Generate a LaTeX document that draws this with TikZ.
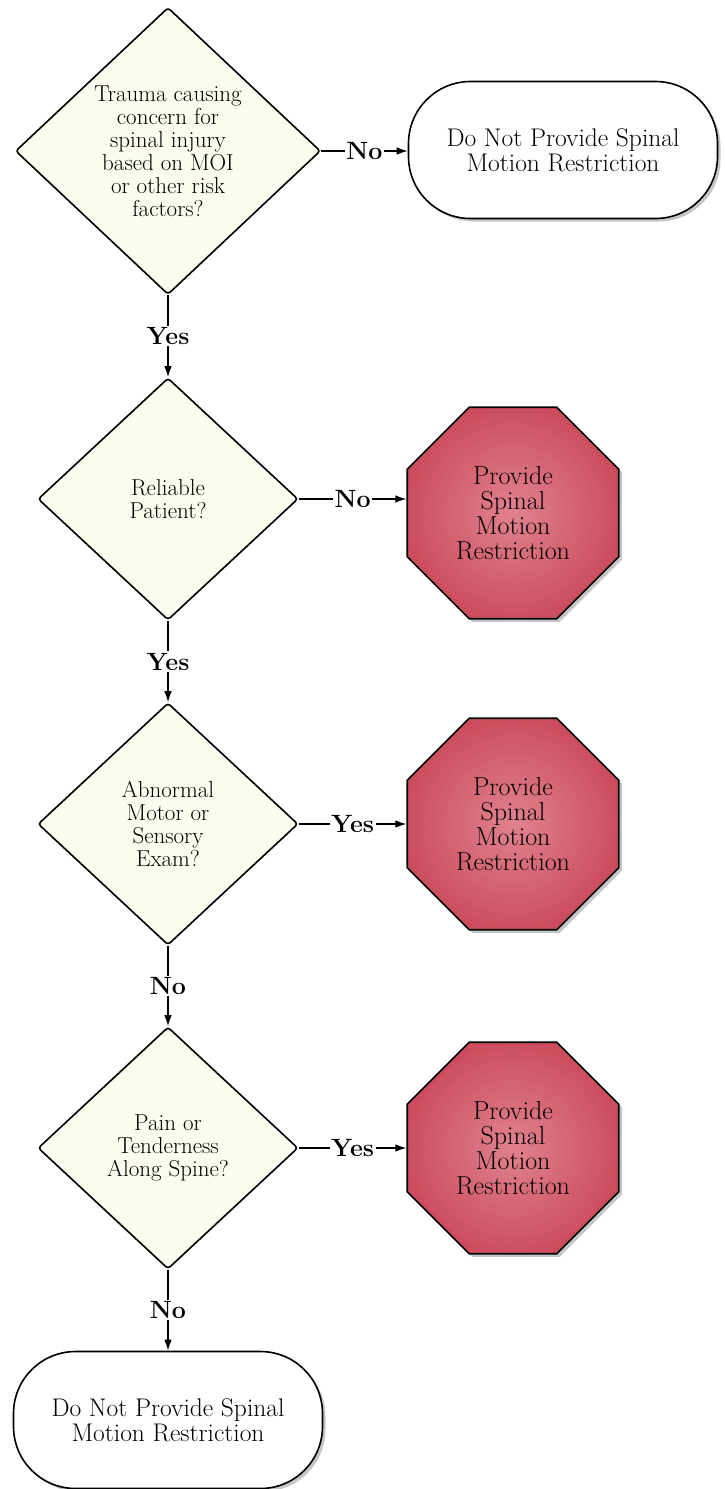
\documentclass[tikz,border=0pt]{standalone}
\usetikzlibrary{shapes.geometric,shadows,arrows.meta}

\definecolor{decisionfill}{RGB}{250,253,238}
\definecolor{stopinner}{RGB}{224,130,142}
\definecolor{stopouter}{RGB}{204,78,94}

\begin{document}
\begin{tikzpicture}[x=1pt,y=-1pt,
    decision/.style={diamond,draw,line width=1.6pt,fill=decisionfill,rounded corners=3pt,
        inner sep=0pt,align=center,font=\fontsize{23}{23}\selectfont},
    stopsign/.style={regular polygon,regular polygon sides=8,draw,line width=1.6pt,
        inner color=stopinner,outer color=stopouter,minimum size=229pt,inner sep=0pt,
        align=center,font=\fontsize{26}{25}\selectfont,
        drop shadow={shadow xshift=3pt,shadow yshift=-3pt,opacity=.45}},
    terminal/.style={rectangle,rounded corners=62pt,draw,line width=1.6pt,fill=white,
        minimum width=309pt,minimum height=137pt,align=center,font=\fontsize{25.5}{25}\selectfont,
        drop shadow={shadow xshift=3pt,shadow yshift=-3pt,opacity=.45}},
    flow/.style={-{Latex[length=11pt,width=7.5pt]},line width=1.3pt},
    answer/.style={fill=white,inner sep=1.5pt,font=\bfseries\fontsize{25}{25}\selectfont}
]
    \useasboundingbox (0,0) rectangle (725,1489);
    \pgfmathsetmacro{\smallwidth}{260}
    \pgfmathsetmacro{\smallheight}{242}

    % decisions down the left
    \node[decision,minimum width=305pt,minimum height=287pt] (trauma) at (168,151)
        {Trauma causing\\concern for\\spinal injury\\based on MOI\\or other risk\\factors?};
    \node[decision,minimum width=\smallwidth pt,minimum height=\smallheight pt] (reliable) at (168,499)
        {Reliable\\Patient?};
    \node[decision,minimum width=\smallwidth pt,minimum height=\smallheight pt] (exam) at (168,824)
        {Abnormal\\Motor or\\Sensory\\Exam?};
    \node[decision,minimum width=\smallwidth pt,minimum height=\smallheight pt] (pain) at (168,1148)
        {Pain or\\Tenderness\\Along Spine?};

    % outcomes
    \node[terminal] (noneedtop) at (563,150) {Do Not Provide Spinal\\Motion Restriction};
    \node[stopsign] (smrone) at (513,513) {Provide\\Spinal\\Motion\\Restriction};
    \node[stopsign] (smrtwo) at (513,824) {Provide\\Spinal\\Motion\\Restriction};
    \node[stopsign] (smrthree) at (513,1148) {Provide\\Spinal\\Motion\\Restriction};
    \node[terminal] (noneedbottom) at (168,1420) {Do Not Provide Spinal\\Motion Restriction};

    % connectors
    \draw[flow] (trauma.east) -- (trauma.east -| noneedtop.west) node[midway,answer] {No};
    \draw[flow] (reliable.east) -- (reliable.east -| smrone.west) node[midway,answer] {No};
    \draw[flow] (exam.east) -- (exam.east -| smrtwo.west) node[midway,answer] {Yes};
    \draw[flow] (pain.east) -- (pain.east -| smrthree.west) node[midway,answer] {Yes};
    \draw[flow] (trauma.south) -- (reliable.north) node[midway,answer] {Yes};
    \draw[flow] (reliable.south) -- (exam.north) node[midway,answer] {Yes};
    \draw[flow] (exam.south) -- (pain.north) node[midway,answer] {No};
    \draw[flow] (pain.south) -- (noneedbottom.north) node[midway,answer] {No};
\end{tikzpicture}
\end{document}
